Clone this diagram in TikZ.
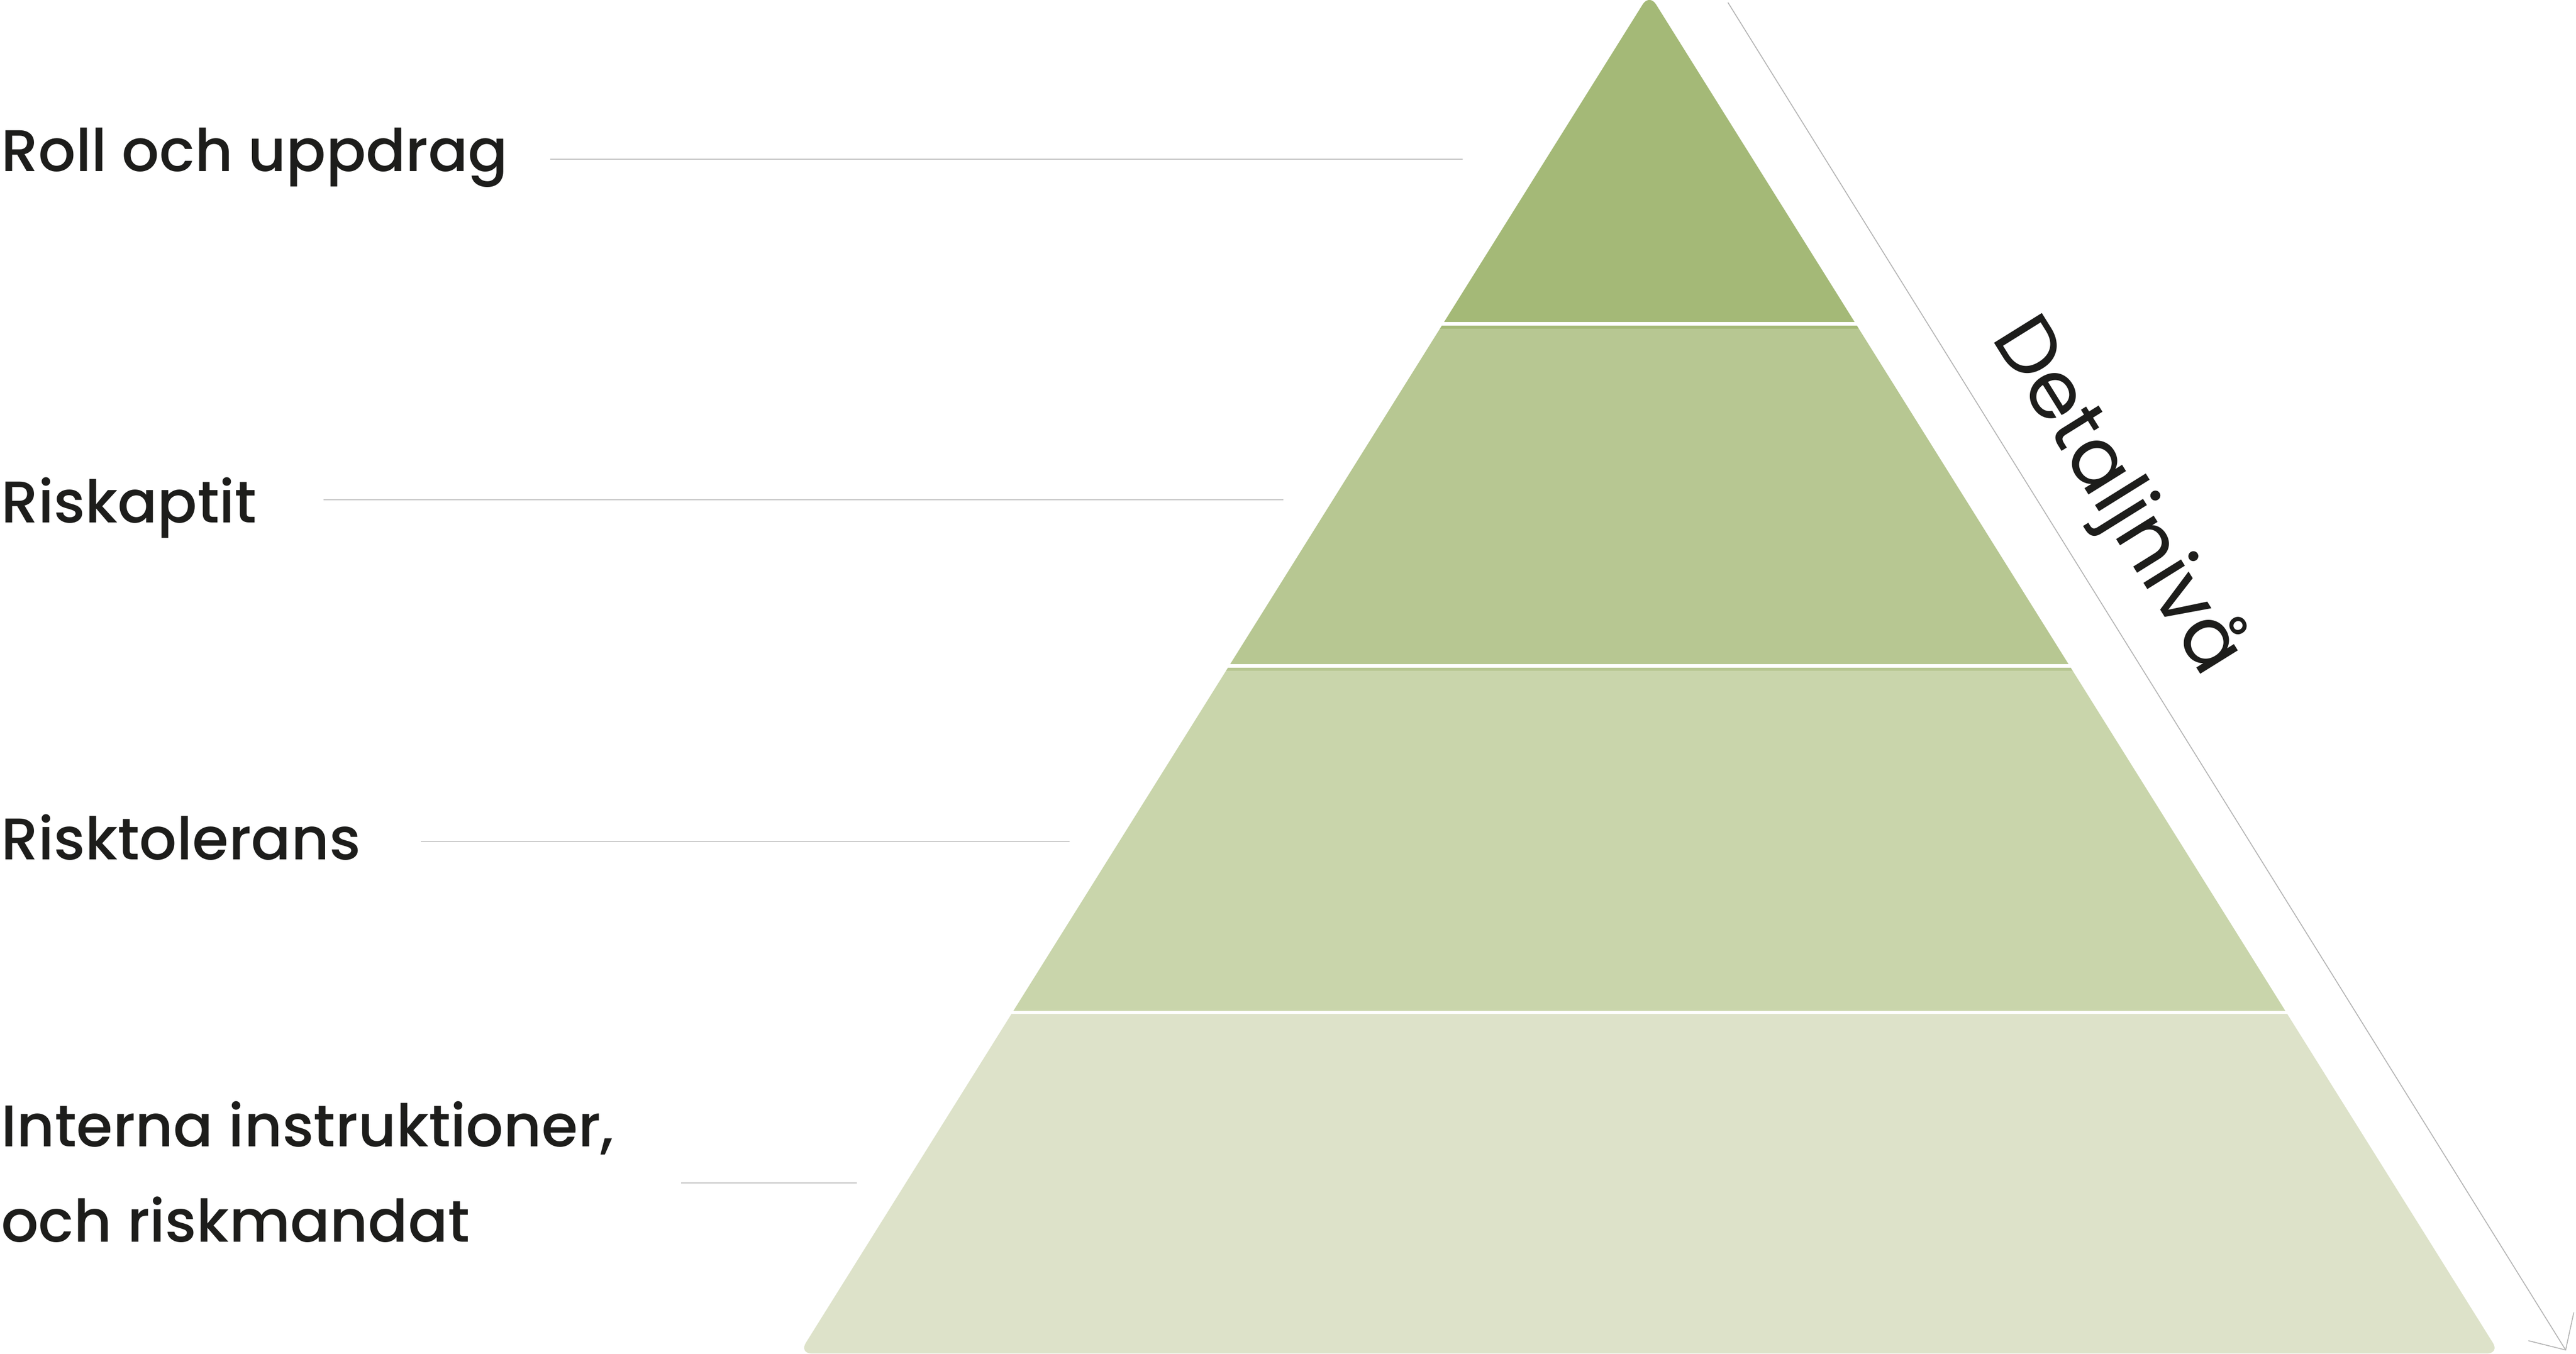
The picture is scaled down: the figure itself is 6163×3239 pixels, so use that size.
\documentclass[tikz,border=0pt]{standalone}
\usepackage{fontspec}
\newfontfamily\labelfont{Poppins}[UprightFont={* Medium}]
\newfontfamily\detailfont{Poppins}
\usetikzlibrary{arrows.meta}

\definecolor{levelA}{HTML}{A4B977}
\definecolor{levelB}{HTML}{B7C792}
\definecolor{levelC}{HTML}{C9D5AB}
\definecolor{levelD}{HTML}{DDE2C9}
\definecolor{leadergray}{HTML}{C4C4C4}
\definecolor{arrowgray}{HTML}{B4B4B4}
\definecolor{textdark}{HTML}{1D1D1B}

\begin{document}
\begin{tikzpicture}[
    x=0.1mm, y=-0.1mm,
    levellabel/.style={anchor=base west, inner sep=0pt, text=textdark, align=left, font={\labelfont\fontsize{40}{64.9}\selectfont}},
    detail/.style={inner sep=0pt, text=textdark, font={\detailfont\fontsize{55}{60}\selectfont}},
    leader/.style={draw=leadergray, line width=0.25mm},
    arrow/.style={-{Straight Barb[length=6.6mm, width=12.8mm]}, draw=arrowgray, line width=0.22mm},
]
\useasboundingbox (0,0) rectangle (6163,3239);

% Pyramid levels
\begin{scope}
\clip[rounded corners=3mm] (3946,-15) -- (5980,3238) -- (1912,3238) -- cycle;
\fill[levelA] (1800,-20) rectangle (6100,770);
\fill[levelA] (1800,779) rectangle (6100,787);
\fill[levelB] (1800,787) rectangle (6100,1589);
\fill[levelB] (1800,1597) rectangle (6100,1605);
\fill[levelC] (1800,1605) rectangle (6100,2418);
\fill[levelD] (1800,2426) rectangle (6100,3240);
\end{scope}

% Labels
\node[levellabel] (roll) at (2,410) {Roll och uppdrag};
\node[levellabel] (aptit) at (2,1250) {Riskaptit};
\node[levellabel] (tolerans) at (2,2057) {Risktolerans};
\node[levellabel] (instr) at (2,2971) {Interna instruktioner,\\och riskmandat};

% Leader lines
\coordinate (rollL) at (1317,381);
\coordinate (rollR) at (3499,381);
\coordinate (aptitL) at (774,1196);
\coordinate (aptitR) at (3070,1196);
\coordinate (toleransL) at (1007,2013);
\coordinate (toleransR) at (2559,2013);
\coordinate (instrL) at (1630,2830);
\coordinate (instrR) at (2050,2830);
\draw[leader] (rollL) -- (rollR);
\draw[leader] (aptitL) -- (aptitR);
\draw[leader] (toleransL) -- (toleransR);
\draw[leader] (instrL) -- (instrR);

% Detail arrow
\coordinate (arrowstart) at (4134,6);
\coordinate (arrowend) at (6139,3231);
\draw[arrow] (arrowstart) -- (arrowend);
\node[detail, rotate=-58.1] (detalj) at (5063,1188) {Detaljnivå};

\end{tikzpicture}
\end{document}
